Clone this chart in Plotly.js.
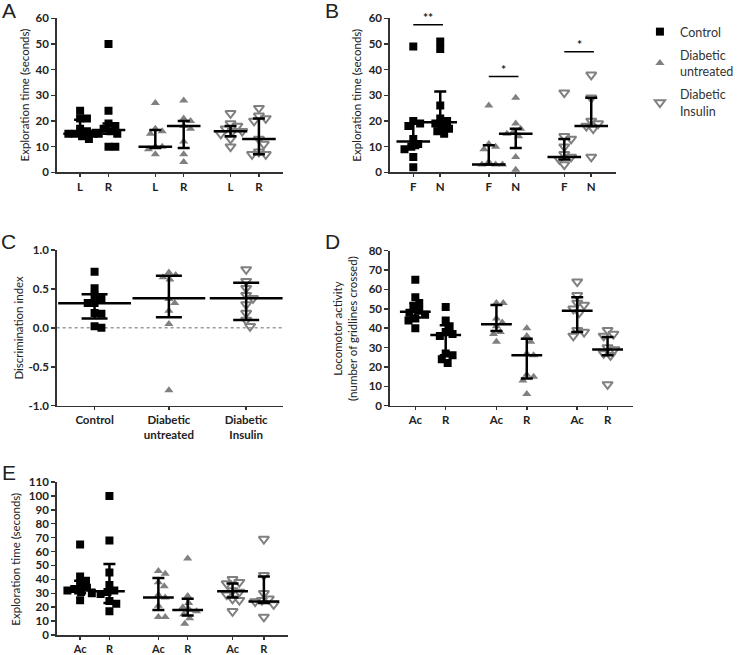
<!DOCTYPE html>
<html><head><meta charset="utf-8">
<script src="https://cdn.plot.ly/plotly-3.0.1.min.js"></script>
<style>html,body{margin:0;padding:0;background:#fff;}#chart{width:739px;height:655px;}</style>
</head><body><div id="chart"></div>
<script>
// ---------- DATA ----------
const groups = ["Control", "Diabetic<br>untreated", "Diabetic<br>Insulin"];

// Panel A: exploration time L / R (seconds)
const aLabels = ["L","R","L","R","L","R"];
const aCtrlL = [24,21,21,17,16,15,15,15,14,13];
const aCtrlR = [50,24,19,18,17,16,15,15,10,10];
const aUntL  = [27,17,16,15,10,10,9,7];
const aUntR  = [28,21,20,18,17,12,7,4];
const aInsL  = [23,19,18,17,16,16,15,13,10];
const aInsR  = [25,22,21,20,13,11,8,7,7];
const aMed   = [15,16.5,10,18,16,13];
const aLow   = [14.8,15,9.5,9.5,14,7];
const aHigh  = [20.5,19,16.5,20,18,21];

// Panel B: exploration time F / N
const bLabels = ["F","N","F","N","F","N"];
const bCtrlF = [49,20,19,18,13,11,10,9,6,2];
const bCtrlN = [51,48,26,21,20,19,18,17,16,15];
const bUntF  = [26,11,10,9,4,3,3,3];
const bUntN  = [29,19,17,16,15,14,6,1];
const bInsF  = [31,14,13,10,7,6,5,3];
const bInsN  = [38,29,20,19,18,17,6];
const bMed   = [12,19.5,3,15,6,18];
const bLow   = [9.5,17,3,9.5,5,18];
const bHigh  = [19,31.5,10.5,17,13,29];
const bSigText  = ["**","*","*"];
const bSigLevel = [57.5,37.3,47];

// Panel C: discrimination index
const cLabels = ["Control","Diabetic<br>untreated","Diabetic<br>Insulin"];
const cCtrl = [0.72,0.51,0.42,0.38,0.32,0.32,0.19,0.18,0.02,0.0];
const cUnt  = [0.71,0.68,0.65,0.62,0.37,0.32,0.22,0.05,-0.80];
const cIns  = [0.75,0.60,0.51,0.42,0.38,0.30,0.19,0.10,0.02];
const cMed  = [0.315,0.38,0.38];
const cLow  = [0.12,0.135,0.10];
const cHigh = [0.43,0.67,0.58];
const cTickVals = [-1,-0.5,0,0.5,1];
const cTickText = ["-1.0","-0.5","0.0","0.5","1.0"];

// Panel D: locomotor activity Ac / R
const dLabels = ["Ac","R","Ac","R","Ac","R"];
const dCtrlAc = [65,56,53,51,49,48,47,45,44,40];
const dCtrlR  = [51,44,41,38,37,36,27,26,24,22];
const dUntAc  = [53,53,45,43,41,38,37,33];
const dUntR   = [40,36,33,27,26,16,15,13,6];
const dInsAc  = [64,57,53,52,50,48,39,38,36];
const dInsR   = [39,37,36,30,29,27,26,11];
const dMed    = [48.5,36.5,42,26,49,29];
const dLow    = [45.5,26,38.5,14,38,26];
const dHigh   = [53,41.5,52,34.5,56,35.5];

// Panel E: exploration time Ac / R
const eLabels = ["Ac","R","Ac","R","Ac","R"];
const eCtrlAc = [65,42,39,36,34,33,32,31,30,25];
const eCtrlR  = [100,68,45,36,32,31,29.5,24.5,22.5,17];
const eUntAc  = [46,44,38,35,29,27,21,13,13];
const eUntR   = [55,28,23,20,18,17,15,12,8];
const eInsAc  = [40,38,37,32,31,29,26,25,17];
const eInsR   = [69,43,30,26,25,24,22,13];
const eMed    = [32.5,31.5,27,18,31.5,24];
const eLow    = [30,23,18,14,27,23];
const eHigh   = [39,51,41,26,37,42];

// ---------- LAYOUT HELPERS ----------
const W = 739, H = 655;
const xd = (a,b) => [a/W, b/W];
const yd = (top,bot) => [1-bot/H, 1-top/H];
const FONT = "Lato, 'Open Sans', sans-serif";
const INK = "#222";

const styles = [
  {symbol:"square", size:8, color:"#000", line:{width:0}},
  {symbol:"triangle-up", size:8, color:"#808080", line:{width:0}},
  {symbol:"triangle-down-open", size:9, color:"#808080", line:{width:2, color:"#808080"}}
];

// simple beeswarm: spreads points that would overlap horizontally
function swarm(vals, ky, kx, d){
  const placed = [], offs = new Array(vals.length);
  const idx = vals.map((v,i)=>i).sort((a,b)=>vals[b]-vals[a]);
  for (const i of idx){
    const y = vals[i]*ky; let best = 0;
    outer: for (let s=0; s<60; s++){
      const cands = s===0 ? [0] : [s,-s];
      for (const c of cands){
        if (placed.every(p => Math.hypot(p.x-c, p.y-y) >= d)) { best = c; break outer; }
      }
    }
    placed.push({x:best, y:y}); offs[i] = best/kx;
  }
  return offs;
}

const traces = [];
function addPanel(ax, sets, pos, styleIdx, ky, kx, med, low, high, medLen, capW, legend){
  sets.forEach((vals, j) => {
    const offs = swarm(vals, ky, kx, 7);
    const st = styles[styleIdx[j]];
    traces.push({
      type:"scatter", mode:"markers", xaxis:"x"+ax, yaxis:"y"+ax,
      x: vals.map((v,k)=>pos[j]+offs[k]), y: vals,
      marker:{symbol:st.symbol, size:st.size, color:st.color, line:st.line},
      name: groups[styleIdx[j]], legendgroup: groups[styleIdx[j]],
      showlegend: legend && (j===0 || styleIdx[j]!==styleIdx[j-1]),
      hoverinfo:"y"
    });
  });
  traces.push({
    type:"scatter", mode:"markers", xaxis:"x"+ax, yaxis:"y"+ax,
    x: pos, y: med, showlegend:false, hoverinfo:"skip",
    marker:{symbol:"line-ew", size:medLen, color:"#000", line:{width:2.5, color:"#000"}},
    error_y:{type:"data", symmetric:false,
      array: high.map((h,i)=>h-med[i]), arrayminus: med.map((m,i)=>m-low[i]),
      color:"#000", thickness:2.5, width:capW}
  });
}

const posA = [0,1,2.65,3.65,5.3,6.3];
const posB = [0,1,2.8,3.8,5.6,6.6];
const posC = [0,1,2.04];
const posD = [0,1,2.67,3.67,5.33,6.33];
const posE = [0,1,2.67,3.67,5.2,6.27];
const pairStyle = [0,0,1,1,2,2];

addPanel("", [aCtrlL,aCtrlR,aUntL,aUntR,aInsL,aInsR], posA, pairStyle, 154/60, 29.05, aMed, aLow, aHigh, 24, 6, true);
addPanel("2", [bCtrlF,bCtrlN,bUntF,bUntN,bInsF,bInsN], posB, pairStyle, 154/60, 27.6, bMed, bLow, bHigh, 24, 6, false);
addPanel("3", [cCtrl,cUnt,cIns], posC, [0,1,2], 77.85, 76, cMed, cLow, cHigh, 52, 13, false);
addPanel("4", [dCtrlAc,dCtrlR,dUntAc,dUntR,dInsAc,dInsR], posD, pairStyle, 155/80, 31.1, dMed, dLow, dHigh, 22, 6, false);
addPanel("5", [eCtrlAc,eCtrlR,eUntAc,eUntR,eInsAc,eInsR], posE, pairStyle, 153/110, 30, eMed, eLow, eHigh, 22, 6, false);

function xax(anchor, domain, range, vals, text){
  return {anchor, domain, range, tickvals:vals, ticktext:text, showline:true, linecolor:"#333", linewidth:1.5,
    showgrid:false, zeroline:false, ticks:"outside", ticklen:3, tickwidth:1.5, tickcolor:"#333",
    tickfont:{family:FONT, size:11.5, color:INK, weight:"bold"}, fixedrange:true};
}
function yax(anchor, domain, range, dtick, extra){
  return Object.assign({anchor, domain, range, dtick, showline:true, linecolor:"#333", linewidth:1.5,
    showgrid:false, zeroline:false, ticks:"outside", ticklen:4, tickwidth:1.5, tickcolor:"#333",
    tickfont:{family:FONT, size:11.5, color:INK, weight:"bold"}, fixedrange:true}, extra||{});
}

const shapes = [], annotations = [];
// significance bars panel B
bSigText.forEach((t,i) => {
  shapes.push({type:"line", xref:"x2", yref:"y2", x0:posB[2*i], x1:posB[2*i+1]+0.1, y0:bSigLevel[i], y1:bSigLevel[i], line:{color:"#000", width:1.5}});
  annotations.push({xref:"x2", yref:"y2", x:(posB[2*i]+posB[2*i+1]+0.1)/2, y:bSigLevel[i], yanchor:"bottom", yshift:-2, text:t, showarrow:false, font:{family:FONT, size:12, color:INK, weight:"bold"}});
});
// dotted zero line panel C
shapes.push({type:"line", xref:"x3 domain", yref:"y3", x0:0, x1:1, y0:0, y1:0, line:{color:"#999", width:1.5, dash:"dot"}, layer:"below"});

// panel letters
[["A",9,11],["B",340,11],["C",9,241],["D",340,241],["E",9,472]].forEach(([t,x,y]) => {
  annotations.push({xref:"paper", yref:"paper", x:x/W, y:1-y/H, xanchor:"center", yanchor:"middle", text:t, showarrow:false, font:{family:"Liberation Sans, Arial, sans-serif", size:21, color:INK}});
});
// y titles
[["Exploration time (seconds)",25,95],["Exploration time (seconds)",364,95],["Discrimination index",18,328],
 ["Locomotor activity<br>(number of gridlines crossed)",353,328],["Exploration time (seconds)",15,559]].forEach(([t,x,y]) => {
  annotations.push({xref:"paper", yref:"paper", x:x/W, y:1-y/H, xanchor:"center", yanchor:"middle", textangle:-90, text:t, showarrow:false, font:{family:FONT, size:11.5, color:INK}});
});

const layout = {
  width:W, height:H, margin:{l:0,r:0,t:0,b:0}, paper_bgcolor:"#fff", plot_bgcolor:"rgba(0,0,0,0)",
  font:{family:FONT, color:INK},
  showlegend:true,
  legend:{x:655/W, y:1-17/H, xanchor:"left", yanchor:"top", bgcolor:"rgba(0,0,0,0)",
    font:{family:FONT, size:12.5, color:"#333"}, tracegroupgap:4, itemwidth:30},
  xaxis:  xax("y",  xd(58,290), [-0.826,7.16], posA, aLabels),
  yaxis:  yax("x",  yd(18.3,172.3), [0,60], 10),
  xaxis2: xax("y2", xd(399,630), [-0.87,7.5], posB, bLabels),
  yaxis2: yax("x2", yd(18.3,172.3), [0,60], 10),
  xaxis3: xax("y3", xd(58,290), [-0.51,2.54], posC, cLabels),
  yaxis3: yax("x3", yd(250,405.7), [-1,1], 0.5, {tickvals:cTickVals, ticktext:cTickText}),
  xaxis4: xax("y4", xd(399,648), [-0.84,7.17], posD, dLabels),
  yaxis4: yax("x4", yd(250.7,405.7), [0,80], 10),
  xaxis5: Object.assign(xax("y5", xd(58,295), [-0.8,7.1], posE, eLabels), {tickfont:{family:FONT, size:11, color:INK, weight:"bold"}}),
  yaxis5: yax("x5", yd(482,635), [0,110], 10),
  shapes, annotations
};
Plotly.newPlot("chart", traces, layout, {displayModeBar:false, staticPlot:true});
</script></body></html>
